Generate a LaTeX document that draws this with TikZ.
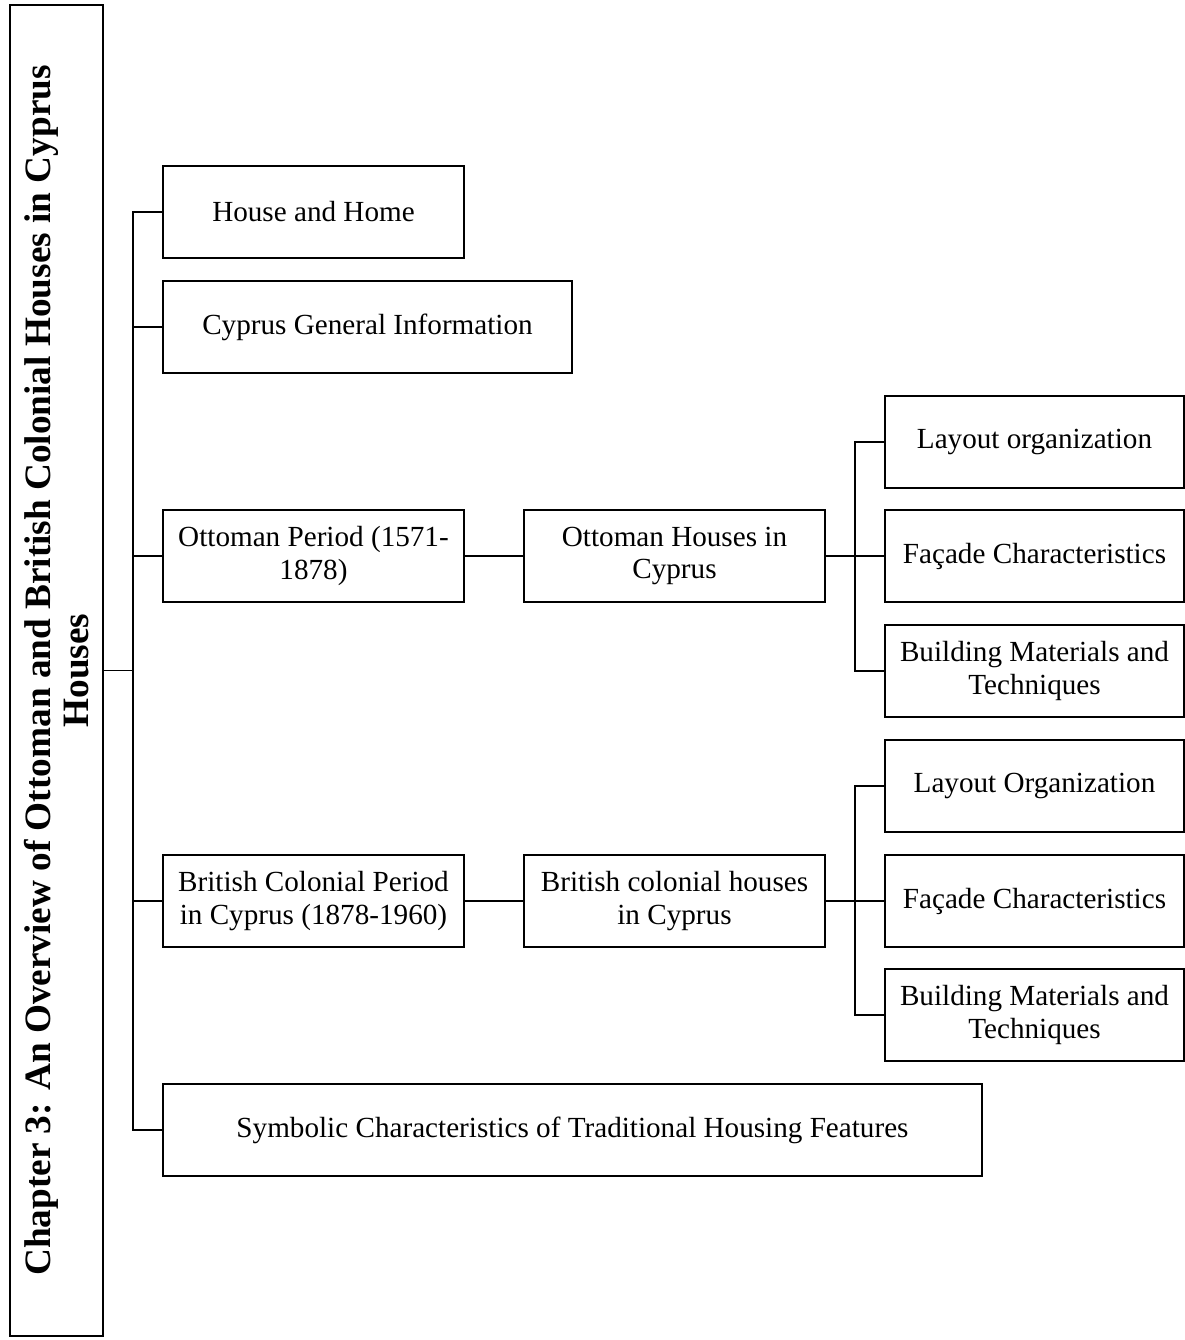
\documentclass[tikz,border=0pt]{standalone}
\usepackage{fontspec}
\setmainfont{Liberation Serif}
\begin{document}
\begin{tikzpicture}[x=0.02cm,y=-0.02cm,
  line width=1.1pt,
  box/.style={draw,line width=1.1pt,minimum height=1.84cm,align=center,inner sep=2pt,
    font=\fontsize{16.6}{18.4}\selectfont},
  narrowbox/.style={box,minimum width=6.02cm},
  rightbox/.style={box,minimum width=5.98cm},
  conn/.style={line width=1.1pt}]
\useasboundingbox (0,0) rectangle (1185,1340);

\node[draw,rotate=90,minimum width=26.62cm,minimum height=1.86cm,align=center,
  font=\bfseries\fontsize{21.2}{21.8}\selectfont] (ch) at (56.5,670.5)
  {Chapter 3: An Overview of Ottoman and British Colonial Houses in Cyprus\\Houses};

\node[narrowbox] (hh) at (313.5,212) {House and Home};
\node[box,minimum width=8.18cm] (cgi) at (367.5,327) {Cyprus General Information};
\node[narrowbox] (op) at (313.5,556) {Ottoman Period (1571-\\1878)};
\node[narrowbox] (oh) at (674.5,556) {Ottoman Houses in\\Cyprus};
\node[narrowbox] (bp) at (313.5,901) {British Colonial Period\\in Cyprus (1878-1960)};
\node[narrowbox] (bh) at (674.5,901) {British colonial houses\\in Cyprus};
\node[box,minimum width=16.38cm] (sym) at (572.5,1130) {Symbolic Characteristics of Traditional Housing Features};

\node[rightbox] (lo1) at (1034.5,442) {Layout organization};
\node[rightbox] (fc1) at (1034.5,556) {Façade Characteristics};
\node[rightbox] (bm1) at (1034.5,671) {Building Materials and\\Techniques};
\node[rightbox] (lo2) at (1034.5,786) {Layout Organization};
\node[rightbox] (fc2) at (1034.5,901) {Façade Characteristics};
\node[rightbox] (bm2) at (1034.5,1015) {Building Materials and\\Techniques};

\coordinate (t) at (133,0);
\coordinate (s) at (855,0);

\draw[conn] (ch.south) -- (ch.south -| t);
\draw[conn] (hh.west) -- (hh.west -| t) |- (sym.west);
\draw[conn] (cgi.west) -- (cgi.west -| t);
\draw[conn] (op.west) -- (op.west -| t);
\draw[conn] (bp.west) -- (bp.west -| t);

\draw[conn] (op) -- (oh);
\draw[conn] (oh) -- (fc1);
\draw[conn] (lo1.west) -- (lo1.west -| s) |- (bm1.west);

\draw[conn] (bp) -- (bh);
\draw[conn] (bh) -- (fc2);
\draw[conn] (lo2.west) -- (lo2.west -| s) |- (bm2.west);
\end{tikzpicture}
\end{document}
